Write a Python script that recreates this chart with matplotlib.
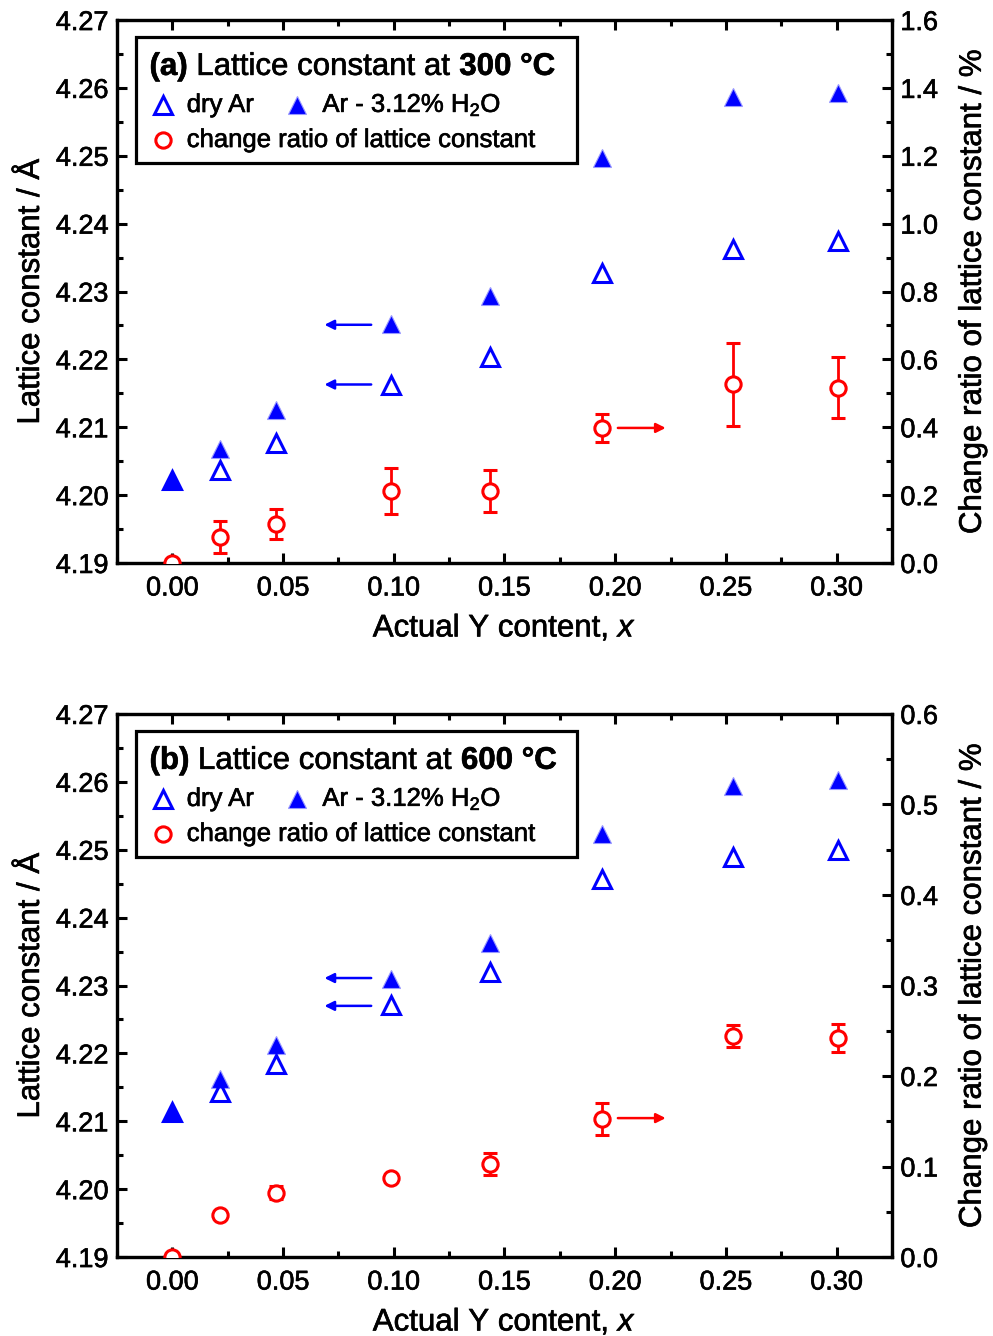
import numpy as np
import matplotlib.pyplot as plt
import matplotlib.patheffects as pe
from matplotlib.ticker import MultipleLocator
from matplotlib.patches import Rectangle
from matplotlib.text import Text

plt.rcParams['font.family'] = ['Liberation Sans', 'DejaVu Sans']
plt.rcParams['mathtext.fontset'] = 'custom'
plt.rcParams['mathtext.rm'] = 'Liberation Sans'
plt.rcParams['mathtext.it'] = 'Liberation Sans:italic'

# Y content
x_content = [0.0, 0.0216, 0.0467, 0.0988, 0.1433, 0.194, 0.2533, 0.3004]

# (a) 300 C
dry_300 = [4.2022, 4.2037, 4.2077, 4.2162, 4.2204, 4.2327, 4.2362, 4.2374]
wet_300 = [4.2022, 4.2068, 4.2126, 4.2252, 4.2293, 4.2497, 4.2586, 4.2593]
ratio_300 = [0.0, 0.077, 0.115, 0.212, 0.212, 0.398, 0.527, 0.516]
ratio_err_300 = [0.0, 0.048, 0.043, 0.068, 0.063, 0.04, 0.122, 0.09]

# (b) 600 C
dry_600 = [4.2114, 4.2143, 4.2185, 4.2272, 4.2320, 4.2457, 4.2489, 4.2500]
wet_600 = [4.2114, 4.2162, 4.2213, 4.2309, 4.2363, 4.2523, 4.2594, 4.2602]
ratio_600 = [0.0, 0.046, 0.071, 0.087, 0.103, 0.1525, 0.244, 0.242]
ratio_err_600 = [0.0, 0.003, 0.007, 0.004, 0.012, 0.018, 0.012, 0.016]

blue = '#0000ff'
red = '#ff0000'

fig = plt.figure(figsize=(9.93, 13.36), dpi=100)


def style_axis(ax):
    for s in ax.spines.values():
        s.set_linewidth(2.3)
    ax.tick_params(which='major', direction='in', length=7, width=2.2, labelsize=19.5)
    ax.tick_params(which='minor', direction='in', length=4, width=2.2)


def panel(rect, tag, temp, dry, wet, ratio, err, rmax, rmajor, rminor, arrow_y, red_y):
    ax = fig.add_axes(rect)
    ax2 = ax.twinx()
    style_axis(ax)
    style_axis(ax2)
    ax.tick_params(top=True, which='both')
    ax.tick_params(axis='x', pad=9)
    ax.tick_params(axis='y', pad=6)
    ax2.tick_params(axis='y', pad=6)

    ax.set_xlim(-0.025, 0.325)
    ax.set_ylim(4.19, 4.27)
    ax.xaxis.set_major_locator(MultipleLocator(0.05))
    ax.xaxis.set_minor_locator(MultipleLocator(0.025))
    ax.yaxis.set_major_locator(MultipleLocator(0.01))
    ax.yaxis.set_minor_locator(MultipleLocator(0.005))
    ax.xaxis.set_major_formatter(lambda v, p: '%.2f' % v)
    ax.yaxis.set_major_formatter(lambda v, p: '%.2f' % v)

    ax2.set_ylim(0, rmax)
    ax2.yaxis.set_major_locator(MultipleLocator(rmajor))
    ax2.yaxis.set_minor_locator(MultipleLocator(rminor))
    ax2.yaxis.set_major_formatter(lambda v, p: '%.1f' % v)

    ax.plot(x_content, wet, ls='none', marker='^', ms=13, mfc=blue,
            mec='#9999ff', mew=0.8, zorder=3)
    ax.plot(x_content, dry, ls='none', marker='^', ms=13, mfc='none',
            mec=blue, mew=2.2, zorder=4)
    ax2.errorbar(x_content, ratio, yerr=err, ls='none', marker='o', ms=11,
                 mfc='white', mec=red, mew=2.2, ecolor=red, elinewidth=2,
                 capsize=5, capthick=2, zorder=3)

    ax.set_xlabel('Actual Y content, $\\it{x}$', fontsize=22.5, labelpad=8)
    ax.set_ylabel('Lattice constant / Å', fontsize=22.5, labelpad=7)
    ax2.set_ylabel('Change ratio of lattice constant / %', fontsize=22.5, labelpad=14)

    # guide arrows
    for yv in arrow_y:
        ax.annotate('', xy=(0.0687, yv), xytext=(0.0898, yv),
                    arrowprops=dict(arrowstyle='-|>', color=blue, lw=1.8,
                                    mutation_scale=14, shrinkA=0, shrinkB=0))
    ax2.annotate('', xy=(0.2228, red_y), xytext=(0.2012, red_y),
                 arrowprops=dict(arrowstyle='-|>', color=red, lw=1.8,
                                 mutation_scale=14, shrinkA=0, shrinkB=0))

    # legend box drawn by hand
    ax2.add_patch(Rectangle((0.024, 0.737), 0.569, 0.231, transform=ax.transAxes,
                            fill=False, ec='black', lw=2.3, zorder=6))
    t1 = ax2.text(0.042, 0.899, tag, transform=ax.transAxes, fontsize=22.5,
                  fontweight='bold', va='baseline', zorder=7)
    t2 = ax2.annotate(' Lattice constant at ', xy=(1, 0), xycoords=t1,
                      fontsize=22.5, va='bottom', zorder=7)
    ax2.annotate(temp, xy=(1, 0), xycoords=t2, fontsize=22.5,
                 fontweight='bold', va='bottom', zorder=7)

    ax2.plot([0.06], [0.8435], transform=ax.transAxes, marker='^', ms=13,
             mfc='none', mec=blue, mew=2.2, clip_on=False, zorder=7)
    ax2.text(0.09, 0.8435, 'dry Ar', transform=ax.transAxes, fontsize=18.5,
             va='center', zorder=7)
    ax2.plot([0.232], [0.8435], transform=ax.transAxes, marker='^', ms=13,
             mfc=blue, mec='#9999ff', mew=0.8, clip_on=False, zorder=7)
    ax2.text(0.265, 0.8435, 'Ar - 3.12% H$_2$O', transform=ax.transAxes,
             fontsize=18.5, va='center', zorder=7)
    ax2.plot([0.06], [0.779], transform=ax.transAxes, marker='o', ms=11,
             mfc='white', mec=red, mew=2.2, clip_on=False, zorder=7)
    ax2.text(0.09, 0.779, 'change ratio of lattice constant',
             transform=ax.transAxes, fontsize=18.5, va='center', zorder=7)
    return ax, ax2


panel([0.1178, 0.5786, 0.7805, 0.4064], '(a)', '300 °C', dry_300, wet_300,
      ratio_300, ratio_err_300, 1.6, 0.2, 0.1, [4.2251, 4.2163], 0.398)
panel([0.1178, 0.0591, 0.7805, 0.4065], '(b)', '600 °C', dry_600, wet_600,
      ratio_600, ratio_err_600, 0.6, 0.1, 0.05, [4.2311, 4.2270], 0.1535)

# heavier text, like the original rendering
for t in fig.findobj(Text):
    t.set_path_effects([pe.withStroke(linewidth=0.45, foreground='black')])

fig.savefig('out.png', dpi=100)
